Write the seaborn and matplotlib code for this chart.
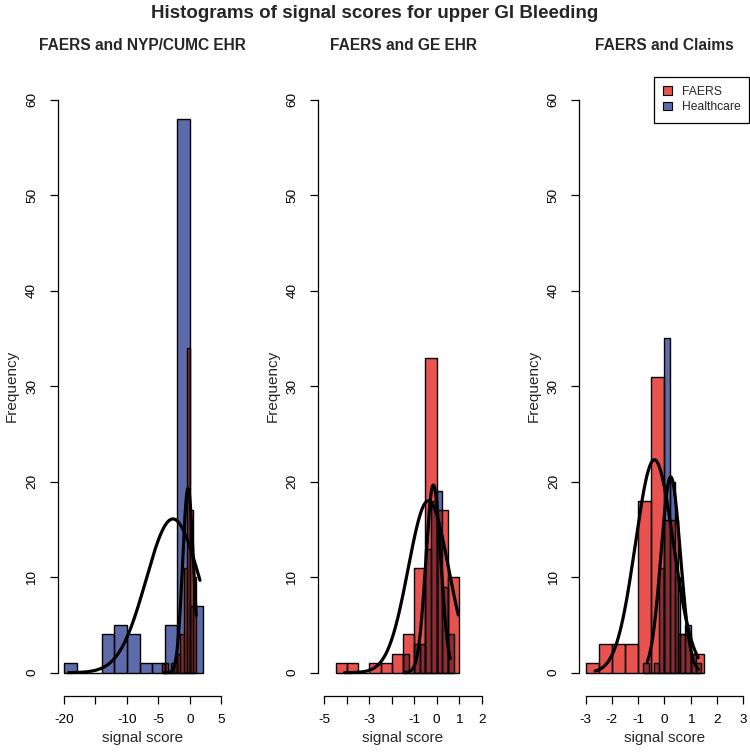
import numpy as np
import pandas as pd
import seaborn as sns
import matplotlib
matplotlib.use("Agg")
import matplotlib.pyplot as plt
from matplotlib.patches import Patch

# ---------------- data ----------------
main_title = "Histograms of signal scores for upper GI Bleeding"
panel_titles = ["FAERS and NYP/CUMC EHR", "FAERS and GE EHR", "FAERS and Claims"]
legend_labels = ["FAERS", "Healthcare"]

# Panel 1: FAERS and NYP/CUMC EHR
p1_faers_start, p1_faers_width = -4.5, 0.5
p1_faers_counts = [1, 1, 0, 1, 1, 2, 4, 11, 34, 17, 10]
p1_health_start, p1_health_width = -20.0, 2.0
p1_health_counts = [1, 0, 0, 4, 5, 4, 1, 1, 5, 58, 7]
p1_faers_curve = dict(mean=-0.30, sd=0.85, peak=19.3, lo=-4.1, hi=1.0)
p1_health_curve = dict(mean=-2.70, sd=4.26, peak=16.1, lo=-19.3, hi=1.6)

# Panel 2: FAERS and GE EHR
p2_faers_start, p2_faers_width = -4.5, 0.5
p2_faers_counts = [1, 1, 0, 1, 1, 2, 4, 11, 33, 17, 10]
p2_health_start, p2_health_width = -1.5, 0.25
p2_health_counts = [2, 0, 3, 3, 13, 18, 19, 9, 4]
p2_faers_curve = dict(mean=-0.37, sd=0.90, peak=18.0, lo=-4.1, hi=0.96)
p2_health_curve = dict(mean=-0.15, sd=0.33, peak=19.65, lo=-1.45, hi=0.6)

# Panel 3: FAERS and Claims
p3_faers_start, p3_faers_width = -3.0, 0.5
p3_faers_counts = [1, 3, 3, 3, 18, 31, 16, 4, 2]
p3_health_start, p3_health_width = -0.8, 0.2
p3_health_counts = [1, 0, 1, 11, 35, 20, 10, 4, 5, 2, 1]
p3_faers_curve = dict(mean=-0.38, sd=0.725, peak=22.3, lo=-2.64, hi=1.29)
p3_health_curve = dict(mean=0.24, sd=0.37, peak=20.5, lo=-0.65, hi=1.3)

x_ticks = [[-20, -15, -10, -5, 0, 5], [-5, -4, -3, -2, -1, 0, 1, 2], [-3, -2, -1, 0, 1, 2, 3]]
x_ticklabels = [["-20", "", "-10", "-5", "0", "5"],
                ["-5", "", "-3", "", "-1", "0", "1", "2"],
                ["-3", "-2", "-1", "0", "1", "2", "3"]]
y_ticks = [0, 10, 20, 30, 40, 50, 60]

# ---------------- style ----------------
sns.set_theme(style="ticks")
plt.rcParams["font.family"] = ["Liberation Sans", "DejaVu Sans"]

RED = "#E8524F"
BLUE = "#5E6BAA"
DARK = "#8B2C35"

W, H = 750, 752
fig = plt.figure(figsize=(7.5, 7.52), dpi=100)

plot_left_px = [57.7, 318.0, 579.4]
xlims = [(-21, 6), (-5.28, 2.28), (-3.24, 3.24)]
plot_w_px = 170.0
plot_top_px, plot_bot_px = 76.8, 695.6


def hist_frame(start, width, counts):
    counts = [float(c) for c in counts]
    edges = [start + width * i for i in range(len(counts) + 1)]
    centers = [(edges[i] + edges[i + 1]) / 2 for i in range(len(counts))]
    return pd.DataFrame({"x": centers, "w": counts}), edges


def draw_panel(ax, f_start, f_width, f_counts, h_start, h_width, h_counts, f_curve, h_curve):
    fdf, fedges = hist_frame(f_start, f_width, f_counts)
    hdf, hedges = hist_frame(h_start, h_width, h_counts)
    # filled bars
    sns.histplot(data=hdf, x="x", weights="w", bins=hedges, color=BLUE, alpha=1,
                 linewidth=0, ax=ax)
    sns.histplot(data=fdf, x="x", weights="w", bins=fedges, color=RED, alpha=1,
                 linewidth=0, ax=ax)
    # overlap (both series present) in dark red
    for i, cf in enumerate(f_counts):
        for j, ch in enumerate(h_counts):
            lo = max(fedges[i], hedges[j])
            hi = min(fedges[i + 1], hedges[j + 1])
            hh = min(cf, ch)
            if hi > lo and hh > 0:
                ax.bar(lo, hh, width=hi - lo, align="edge", color=DARK, linewidth=0)
    # outlines
    sns.histplot(data=hdf, x="x", weights="w", bins=hedges, fill=False, color="black",
                 edgecolor="black", linewidth=1.0, ax=ax)
    sns.histplot(data=fdf, x="x", weights="w", bins=fedges, fill=False, color="black",
                 edgecolor="black", linewidth=1.0, ax=ax)
    # fitted normal curves
    for c in (h_curve, f_curve):
        xs = np.linspace(c["lo"], c["hi"], 200)
        ys = c["peak"] * np.exp(-0.5 * ((xs - c["mean"]) / c["sd"]) ** 2)
        sns.lineplot(x=xs, y=ys, color="black", linewidth=2.3, ax=ax,
                     estimator=None, sort=False)


panels = [
    (p1_faers_start, p1_faers_width, p1_faers_counts, p1_health_start, p1_health_width,
     p1_health_counts, p1_faers_curve, p1_health_curve),
    (p2_faers_start, p2_faers_width, p2_faers_counts, p2_health_start, p2_health_width,
     p2_health_counts, p2_faers_curve, p2_health_curve),
    (p3_faers_start, p3_faers_width, p3_faers_counts, p3_health_start, p3_health_width,
     p3_health_counts, p3_faers_curve, p3_health_curve),
]

for k in range(3):
    L = plot_left_px[k]
    ax = fig.add_axes([L / W, 1 - plot_bot_px / H, plot_w_px / W,
                       (plot_bot_px - plot_top_px) / H])
    draw_panel(ax, *panels[k])
    ax.set_xlim(*xlims[k])
    ax.set_ylim(-2.4, 62.4)
    for s in ("top", "right"):
        ax.spines[s].set_visible(False)
    ax.spines["left"].set_bounds(0, 60)
    ax.spines["bottom"].set_bounds(x_ticks[k][0], x_ticks[k][-1])
    for s in ("left", "bottom"):
        ax.spines[s].set_linewidth(0.9)
        ax.spines[s].set_color("black")
    ax.set_xticks(x_ticks[k])
    ax.set_xticklabels(x_ticklabels[k])
    ax.set_yticks(y_ticks)
    ax.set_yticklabels([str(v) for v in y_ticks], rotation=90, va="center")
    ax.tick_params(axis="both", direction="out", length=5.6, width=0.9, colors="black",
                   labelsize=9.7, bottom=True, left=True)
    ax.tick_params(axis="x", pad=7.5)
    ax.tick_params(axis="y", pad=8.5)
    ax.set_xlabel("signal score", fontsize=11, labelpad=4)
    ax.set_ylabel("Frequency", fontsize=11, labelpad=5)
    ax.grid(False)
    ax.set_facecolor("none")
    fig.text((L + plot_w_px / 2) / W, 1 - 46 / H, panel_titles[k], ha="center",
             va="center", fontsize=11.2, fontweight="bold")
    if k == 2:
        handles = [Patch(facecolor=RED, edgecolor="black", linewidth=0.8),
                   Patch(facecolor=BLUE, edgecolor="black", linewidth=0.8)]
        leg = ax.legend(handles, legend_labels, loc="upper right", bbox_to_anchor=(1, 1),
                        borderaxespad=0, fancybox=False, framealpha=1, edgecolor="black",
                        fontsize=8.7, handlelength=0.7, handleheight=0.7, handletextpad=0.8,
                        borderpad=0.75, labelspacing=0.3)
        leg.get_frame().set_linewidth(0.9)

fig.text(0.5, 1 - 13 / H, main_title, ha="center", va="center", fontsize=13.5,
         fontweight="bold")

fig.savefig("out.png", dpi=100, facecolor="white")
